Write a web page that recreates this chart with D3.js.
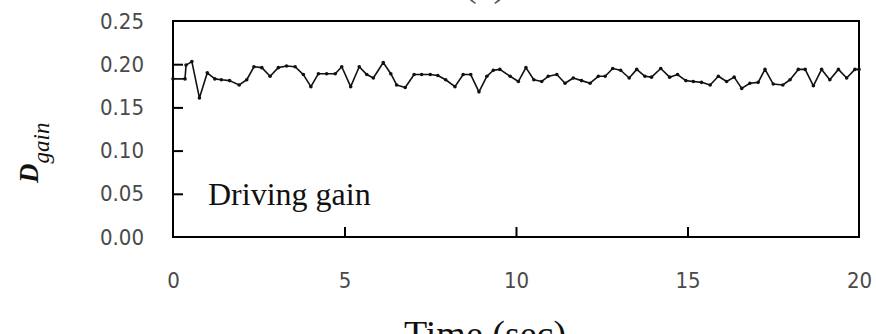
<!DOCTYPE html>
<html>
<head>
<meta charset="utf-8">
<script src="https://cdn.jsdelivr.net/npm/d3@7"></script>
<style>
  html, body { margin: 0; padding: 0; background: #fff; }
  svg { display: block; }
  .tick text { font-family: "DejaVu Sans Condensed", "DejaVu Sans", sans-serif; font-size: 22px; fill: #4a4a4a; }
  .tick line { stroke: #000; stroke-width: 2px; }
</style>
</head>
<body>
<svg id="chart" width="876" height="334"></svg>
<script>
// Driving gain over time (sec)
const timeSec = [0, 0.35, 0.38, 0.55, 0.77, 1.0, 1.22, 1.41, 1.65, 1.93, 2.15, 2.36, 2.59, 2.83, 3.07, 3.31, 3.56, 3.80, 4.02, 4.24, 4.48, 4.73, 4.92, 5.18, 5.43, 5.65, 5.84, 6.13, 6.35, 6.52, 6.77, 7.03, 7.25, 7.5, 7.72, 7.95, 8.22, 8.46, 8.68, 8.92, 9.15, 9.34, 9.53, 9.83, 10.07, 10.29, 10.52, 10.75, 10.94, 11.19, 11.43, 11.67, 11.91, 12.16, 12.40, 12.60, 12.82, 13.05, 13.30, 13.52, 13.76, 13.95, 14.22, 14.48, 14.71, 14.95, 15.17, 15.41, 15.66, 15.90, 16.14, 16.36, 16.58, 16.82, 17.06, 17.26, 17.50, 17.78, 17.99, 18.23, 18.43, 18.67, 18.91, 19.15, 19.40, 19.64, 19.88, 20.0];
const dGain = [0.183, 0.183, 0.199, 0.203, 0.161, 0.190, 0.183, 0.182, 0.181, 0.176, 0.182, 0.197, 0.196, 0.186, 0.196, 0.198, 0.197, 0.188, 0.174, 0.189, 0.189, 0.189, 0.197, 0.174, 0.197, 0.188, 0.184, 0.202, 0.189, 0.176, 0.173, 0.188, 0.188, 0.188, 0.187, 0.182, 0.174, 0.188, 0.188, 0.168, 0.186, 0.193, 0.194, 0.186, 0.180, 0.196, 0.182, 0.180, 0.186, 0.188, 0.178, 0.184, 0.181, 0.178, 0.186, 0.186, 0.195, 0.193, 0.184, 0.194, 0.186, 0.185, 0.195, 0.185, 0.188, 0.181, 0.180, 0.179, 0.176, 0.186, 0.180, 0.185, 0.172, 0.178, 0.179, 0.194, 0.177, 0.176, 0.182, 0.194, 0.194, 0.175, 0.194, 0.182, 0.194, 0.184, 0.194, 0.194];

const xTicks = [0, 5, 10, 15, 20];
const yTicks = [0, 0.05, 0.10, 0.15, 0.20, 0.25];

const plot = { left: 173, right: 859, top: 21, bottom: 237 };

const svg = d3.select("#chart");

const x = d3.scaleLinear().domain([0, 20]).range([plot.left, plot.right]);
const y = d3.scaleLinear().domain([0, 0.25]).range([plot.bottom, plot.top]);

// Axes with inward ticks
const xAxis = svg.append("g")
  .attr("transform", `translate(0,${plot.bottom})`)
  .call(d3.axisBottom(x).tickValues(xTicks).tickSize(-10).tickPadding(35).tickFormat(d3.format("d")));
xAxis.select(".domain").remove();

const yAxis = svg.append("g")
  .attr("transform", `translate(${plot.left},0)`)
  .call(d3.axisLeft(y).tickValues(yTicks).tickSize(-10).tickPadding(29).tickFormat(d3.format(".2f")));
yAxis.select(".domain").remove();
yAxis.selectAll(".tick").filter(d => d === 0 || d === 0.25).select("line").remove();
xAxis.selectAll(".tick").filter(d => d === 0 || d === 20).select("line").remove();

// Frame
svg.append("rect")
  .attr("x", plot.left).attr("y", plot.top)
  .attr("width", plot.right - plot.left).attr("height", plot.bottom - plot.top)
  .attr("fill", "none").attr("stroke", "#000").attr("stroke-width", 2);

// Series
const pts = timeSec.map((t, i) => [t, dGain[i]]);
svg.append("path")
  .datum(pts)
  .attr("fill", "none")
  .attr("stroke", "#111")
  .attr("stroke-width", 1.6)
  .attr("stroke-linejoin", "round")
  .attr("d", d3.line().x(d => x(d[0])).y(d => y(d[1])));

svg.append("g").selectAll("circle")
  .data(pts)
  .join("circle")
  .attr("cx", d => x(d[0]))
  .attr("cy", d => y(d[1]))
  .attr("r", 1.8)
  .attr("fill", "#111");

// Labels
svg.append("text")
  .attr("x", 208).attr("y", 205)
  .attr("font-family", "Liberation Serif, Times New Roman, serif")
  .attr("font-size", 32)
  .attr("fill", "#111")
  .text("Driving gain");

svg.append("text")
  .attr("x", 485).attr("y", 347)
  .attr("text-anchor", "middle")
  .attr("font-family", "Liberation Serif, Times New Roman, serif")
  .attr("font-size", 38)
  .attr("fill", "#111")
  .text("Time (sec)");

svg.append("text")
  .attr("x", 485).attr("y", -4)
  .attr("text-anchor", "middle")
  .attr("font-family", "Liberation Serif, Times New Roman, serif")
  .attr("font-size", 38)
  .attr("fill", "#555")
  .text("(a)");

const yLabel = svg.append("text")
  .attr("transform", "translate(38,183) rotate(-90)")
  .attr("font-family", "Liberation Serif, Times New Roman, serif")
  .attr("font-style", "italic")
  .attr("fill", "#111");
yLabel.append("tspan").attr("font-size", 27).attr("font-weight", "bold").text("D");
yLabel.append("tspan").attr("font-size", 23).attr("dy", 11).text("gain");
</script>
</body>
</html>
